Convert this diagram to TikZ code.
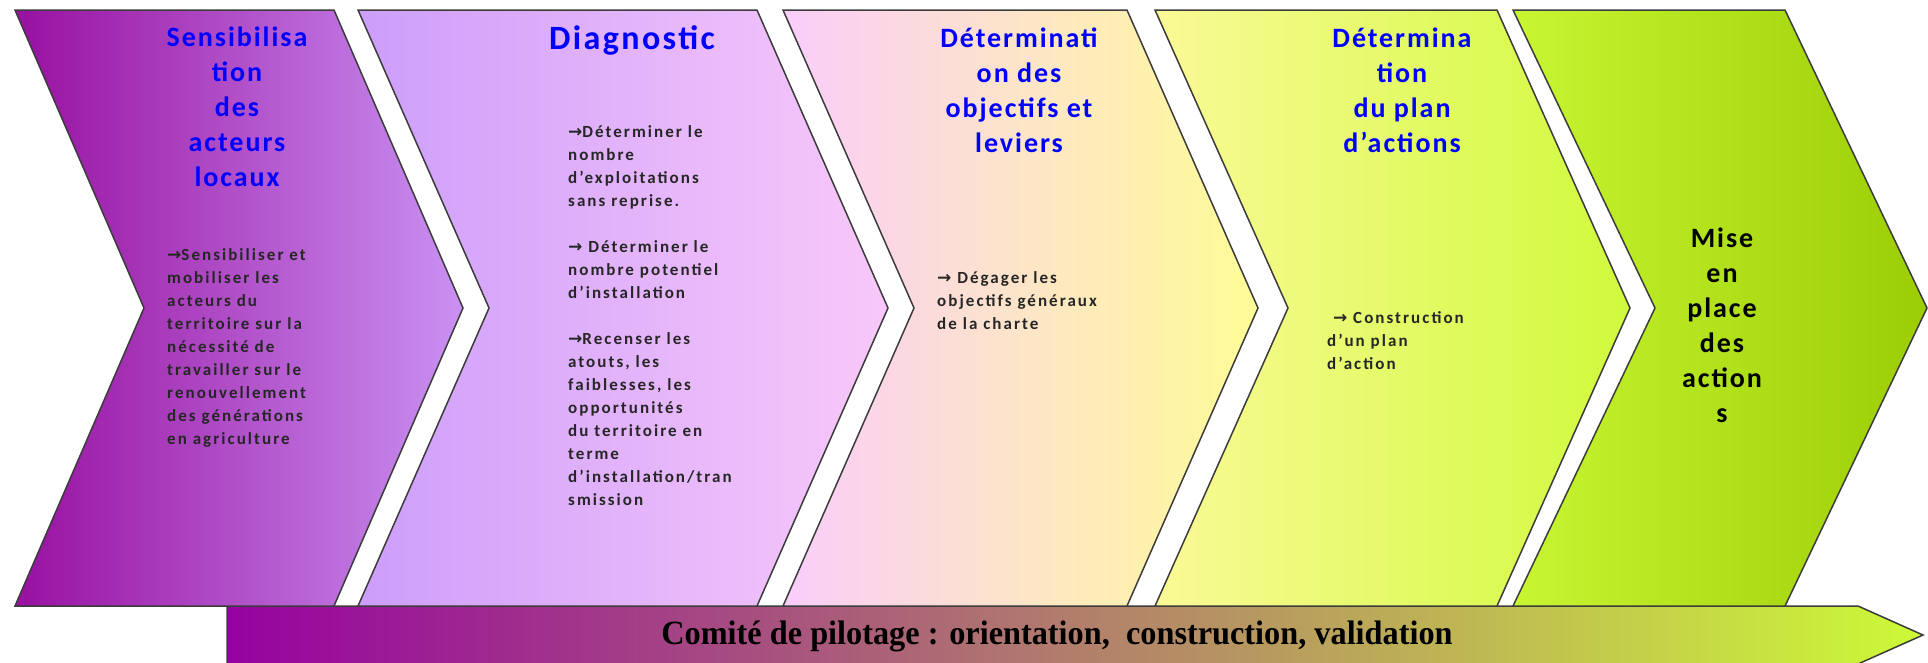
\documentclass[tikz,border=0pt]{standalone}
\usepackage{fontspec}
\usepackage{tikz}
\setmainfont{Carlito}
\newfontfamily\chevfont{Carlito}[LetterSpace=12]
\newfontfamily\titlefont{Carlito}[LetterSpace=7]
\newfontfamily\barfont{Liberation Serif}[FakeStretch=0.95]
\newfontfamily\arrowfont{DejaVu Sans}
\newcommand{\fl}{{\arrowfont →}}

\definecolor{violetA}{RGB}{152,16,160}
\definecolor{violetB}{RGB}{202,145,242}
\definecolor{lavA}{RGB}{205,158,250}
\definecolor{roseB}{RGB}{248,200,250}
\definecolor{roseA}{RGB}{250,205,250}
\definecolor{jauneB}{RGB}{255,252,150}
\definecolor{jauneA}{RGB}{250,250,150}
\definecolor{citronB}{RGB}{208,250,60}
\definecolor{citronA}{RGB}{200,246,50}
\definecolor{vertB}{RGB}{155,205,5}
\definecolor{barL}{RGB}{150,2,160}
\definecolor{barM}{RGB}{168,150,140}
\definecolor{barR}{RGB}{205,250,55}
\definecolor{trait}{RGB}{60,60,60}

% one step: left x, top right x, depth, left colour, right colour
\newcommand{\etape}[5]{%
  \shadedraw[left color=#4, right color=#5, draw=trait, line width=1.5pt]
    (#1,10) -- (#2,10) -- ++(#3,298) -- (#2,606) -- (#1,606) -- ++(#3,-298) -- cycle;}

\tikzset{
  titre/.style={text=blue, align=center, inner sep=0pt,
    font=\titlefont\bfseries\fontsize{28}{35}\selectfont},
  texte/.style={text=black!85, align=left, inner sep=0pt, anchor=north west,
    font=\chevfont\bfseries\fontsize{17}{23}\selectfont}
}

\begin{document}
\begin{tikzpicture}[x=1pt, y=-1pt]
\useasboundingbox (0,0) rectangle (1928,662);

% comite bar
\shadedraw[left color=barL, middle color=barM, right color=barR, draw=trait, line width=1.5pt]
  (227,606) -- (1858,606) -- (1923,635) -- (1858,664) -- (227,664) -- cycle;

% the five steps
\etape{15}{334}{129}{violetA}{violetB}
\etape{358}{757}{131}{lavA}{roseB}
\etape{783}{1127}{131}{roseA}{jauneB}
\etape{1155}{1497}{133}{jauneA}{citronB}
\etape{1513}{1785}{142}{citronA}{vertB}

\node (T1) [titre] at (237,107) {Sensibilisa\\tion\\des\\acteurs\\locaux};
\node (T2) [titre, font=\titlefont\bfseries\fontsize{34}{40}\selectfont] at (632,40) {Diagnostic};
\node (T3) [titre] at (1019,90) {Déterminati\\on des\\objectifs et\\leviers};
\node (T4) [titre] at (1402,90) {Détermina\\tion\\du plan\\d’actions};
\node (T5) [titre, text=black] at (1722,325) {Mise\\en\\place\\des\\action\\s};

\node (B1) [texte] at (167,248) {\fl Sensibiliser et\\mobiliser les\\acteurs du\\territoire sur la\\nécessité de\\travailler sur le\\renouvellement\\des générations\\en agriculture};
\node (B2) [texte] at (568,125) {\fl Déterminer le\\nombre\\d’exploitations\\sans reprise.\\[23pt]\fl\ Déterminer le\\nombre potentiel\\d’installation\\[23pt]\fl Recenser les\\atouts, les\\faiblesses, les\\opportunités\\du territoire en\\terme\\d’installation/tran\\smission};
\node (B3) [texte] at (937,271) {\fl\ Dégager les\\objectifs généraux\\de la charte};
\node (B4) [texte] at (1327,311) {\ \fl\ Construction\\d’un plan\\d’action};

\node (comite) at (1057,636) {\barfont\bfseries\fontsize{34}{38}\selectfont Comité de pilotage : orientation,\ \ construction, validation};
\end{tikzpicture}
\end{document}
